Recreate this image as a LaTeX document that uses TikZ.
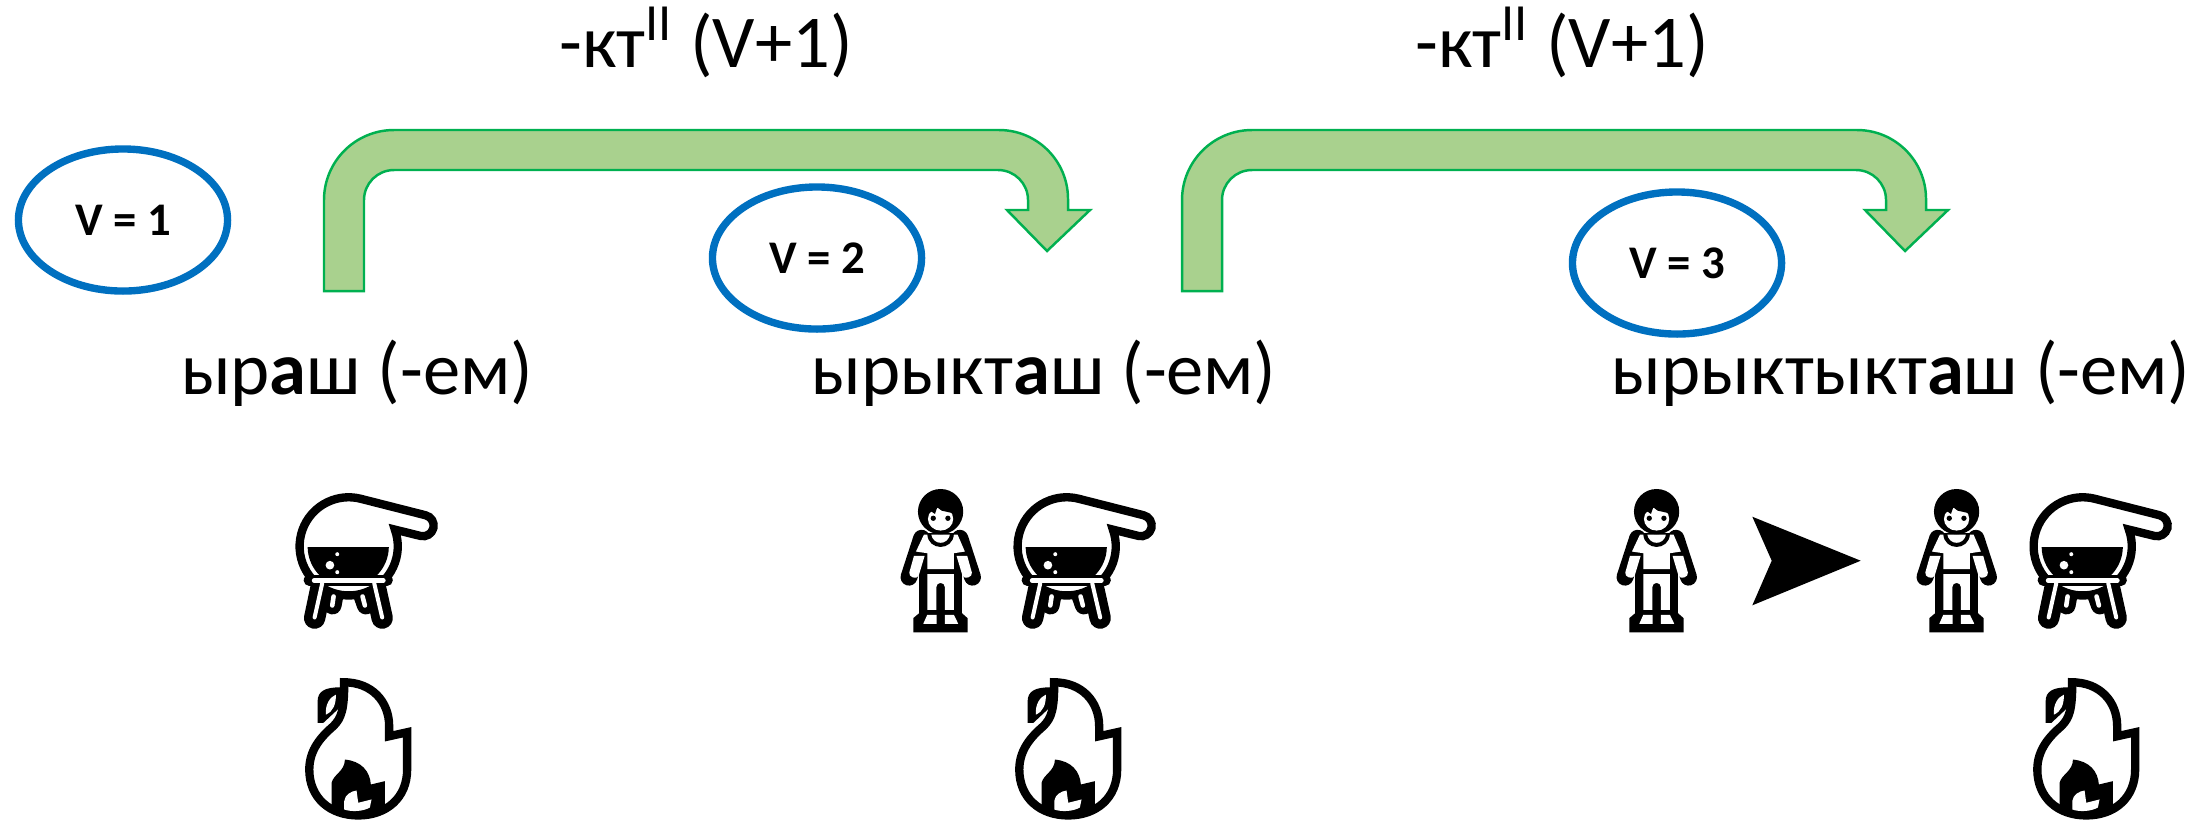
\documentclass[tikz,border=0pt]{standalone}
\usepackage{fontspec}
\setmainfont{Carlito}
\usetikzlibrary{shapes.geometric}
\definecolor{vblue}{HTML}{0070C0}
\definecolor{arrowfill}{HTML}{A9D18E}
\definecolor{arrowline}{HTML}{00B050}
\tikzset{
	vnode/.style={ellipse,draw=vblue,line width=2.1pt,fill=white,minimum width=2.09cm,minimum height=1.42cm,inner sep=0pt,font=\fontsize{13.3}{16}\selectfont\bfseries},
	word/.style={anchor=base,inner sep=0pt,font=\fontsize{21.2}{25}\selectfont},
	bentarrow/.pic={
		\draw [fill=arrowfill,draw=arrowline,line width=0.7pt,line join=miter] (324,291) -- (324,200) arc[start angle=180,end angle=270,radius=70] -- (999,130) arc[start angle=270,end angle=360,radius=69] -- (1068,210) -- (1090,210) -- (1047,251) -- (1007,210) -- (1028,210) -- (1028,200) arc[start angle=0,end angle=-90,radius=30] -- (394,170) arc[start angle=270,end angle=180,radius=30] -- (364,291) -- cycle;
	},
	potpic/.pic={
		\begin{scope}[x=0.003333cm,y=-0.003333cm]
			\draw [line width=6.07pt,line cap=round] (125,375) -- (104,475);
			\draw [line width=6.07pt,line cap=round] (285,375) -- (307,475);
			\draw [line width=5.1pt,line cap=round] (165,400) -- (158,437);
			\draw [line width=5.1pt,line cap=round] (245,400) -- (258,437);
			\draw [fill=white,line width=2.37pt] (345,209) arc[start angle=-20,end angle=284,radius=147.5] -- (437.5,166) arc[start angle=-76,end angle=104,radius=32] -- cycle;
			\begin{scope}
				\clip (205,260) circle[radius=122];
				\fill (60,262) rectangle (350,350);
			\end{scope}
			\fill [white] (150,316) circle[radius=13] (172,283) circle[radius=6] (172,337) circle[radius=6];
			\draw [line width=3.2pt,line cap=round] (88,361) -- (322,361);
			\draw [white,line width=1.42pt,line cap=round] (103,362) -- (310,362);
			\draw [white,line width=1.14pt,line cap=round] (127,370) -- (104,473);
			\draw [white,line width=1.14pt,line cap=round] (283,370) -- (307,473);
			\draw [white,line width=1.3pt,line cap=round] (161,410) -- (157,437);
			\draw [white,line width=1.3pt,line cap=round] (248,410) -- (255,437);
		\end{scope}
	},
	firepic/.pic={
		\begin{scope}[x=0.003333cm,y=-0.003333cm]
			\fill (113,790) -- (113,725) .. controls (113,695) and (135,683) .. (180,683) -- (180,655) -- (205,655) -- (205,720) -- (130,790) -- cycle;
			\fill [white] (138,765) .. controls (135,735) and (150,712) .. (168,705) .. controls (168,735) and (160,755) .. (138,765);
			\draw [fill=white,line width=2.37pt,line join=miter] (193,668) .. controls (275,668) and (328,725) .. (328,800) -- (328,830) -- (382,818) -- (382,930) .. controls (382,1015) and (320,1068) .. (235,1068) .. controls (150,1068) and (88,1015) .. (88,930) .. controls (88,870) and (125,830) .. (160,800) .. controls (185,775) and (193,750) .. cycle;
			\fill (155,1060) -- (155,970) .. controls (160,945) and (195,935) .. (195,900) .. controls (245,905) and (270,935) .. (273,975) -- (315,965) -- (315,1060) -- cycle;
			\fill [white] (193,1050) -- (193,1025) .. controls (195,1005) and (215,995) .. (230,993) -- (235,1030) -- (275,1020) -- (270,1044) .. controls (250,1056) and (215,1058) .. (193,1050) -- cycle;
		\end{scope}
	},
	womanpic/.pic={
		\begin{scope}[x=0.003333cm,y=-0.003333cm]
			\draw [line width=4.8pt,line cap=round] (125,205) -- (87,322);
			\draw [line width=4.8pt,line cap=round] (240,205) -- (278,322);
			\fill (118,190) rectangle (247,470);
			\fill (100,488) -- (100,445) -- (118,430) -- (246,430) -- (263,445) -- (263,488) -- cycle;
			\fill [white] (108,245) -- (132,194) -- (233,194) -- (255,245) -- (222,250) -- (222,298) -- (142,298) -- (142,250) -- cycle;
			\draw [line width=1.14pt] (148,192) .. controls (150,236) and (214,236) .. (216,192);
			\fill (182,125) circle[radius=68];
			\fill [white] (182,147) ellipse[x radius=38,y radius=35];
			\fill (145,130) -- (152,108) -- (212,108) -- (220,130) -- (185,122) -- (172,112) -- (165,132) -- (155,125) -- cycle;
			\fill (160,145) circle[radius=8] (204,145) circle[radius=8];
			\fill [white] (102,258) -- (134,258) -- (116,318) .. controls (110,330) and (85,322) .. (88,308) -- cycle;
			\fill [white] (230,258) -- (262,258) -- (276,308) .. controls (279,322) and (254,330) .. (248,318) -- cycle;
			\fill [white] (142,313) -- (222,313) -- (222,420) -- (195,420) -- (195,352) .. controls (195,335) and (169,335) .. (169,352) -- (169,420) -- (142,420) -- cycle;
			\fill [white] (130,462) -- (142,435) -- (170,435) -- (170,462) -- cycle;
			\fill [white] (195,435) -- (222,435) -- (235,462) -- (195,462) -- cycle;
		\end{scope}
	}
}

\begin{document}
\begin{tikzpicture}[x=0.01cm,y=-0.01cm]
	\useasboundingbox (0,0) rectangle (2195,820);
	\pic at (0,0) {bentarrow};
	\pic at (858,0) {bentarrow};
	\node (v1) at (123,220) [vnode] {V = 1};
	\node (v2) at (817,258) [vnode] {V = 2};
	\node (v3) at (1677,263) [vnode] {V = 3};
	\node (suffix1) at (706,67) [word] {-кт\textsuperscript{II} (V+1)};
	\node (suffix2) at (1562,67) [word] {-кт\textsuperscript{II} (V+1)};
	\node (verb1) at (357,394) [word] {ыр\textbf{а}ш (-ем)};
	\node (verb2) at (1044,394) [word] {ырыкт\textbf{а}ш (-ем)};
	\node (verb3) at (1901,394) [word] {ырыктыкт\textbf{а}ш (-ем)};
	\pic at (280,460) {potpic};
	\pic at (998,460) {potpic};
	\pic at (2014,460) {potpic};
	\pic at (880,470) {womanpic};
	\pic at (1596,470) {womanpic};
	\pic at (1896,470) {womanpic};
	\fill (1752.3,516.7) -- (1860.7,560.7) -- (1752.3,605.3) -- (1771.7,560.7) -- cycle;
	\pic at (280,460) {firepic};
	\pic at (990,460) {firepic};
	\pic at (2008,460) {firepic};
\end{tikzpicture}
\end{document}
